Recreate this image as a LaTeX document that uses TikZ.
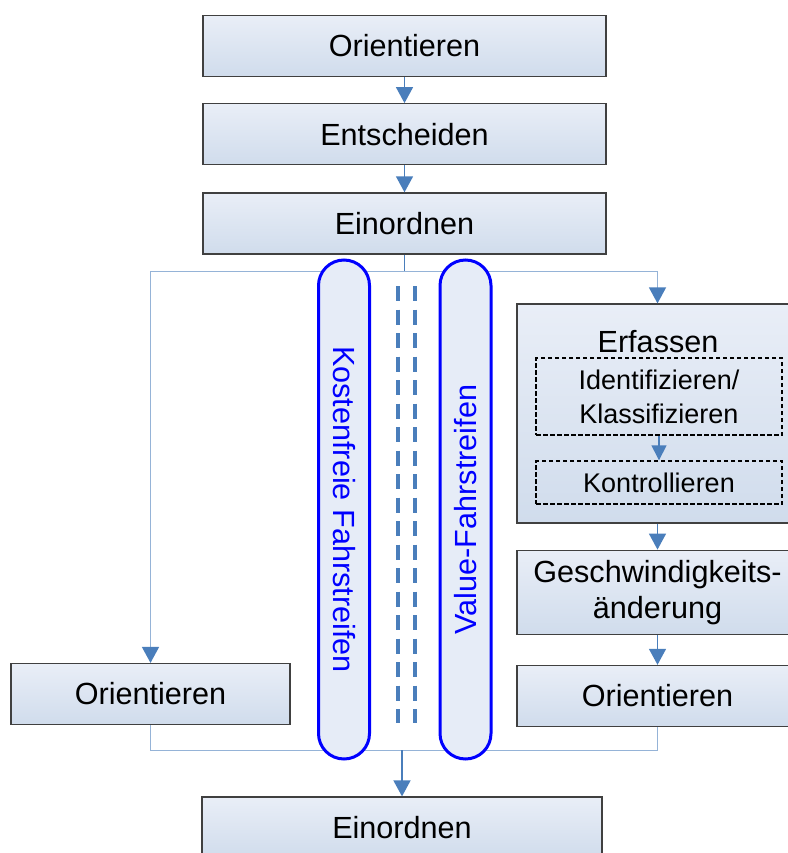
\documentclass[tikz,border=0pt]{standalone}
\usepackage{fontspec}
\setmainfont{Liberation Sans}
\usetikzlibrary{positioning,arrows.meta}

\definecolor{boxtop}{HTML}{E9EEF7}
\definecolor{boxbottom}{HTML}{D0DCEC}
\definecolor{flowblue}{HTML}{4A7EBB}
\definecolor{branchblue}{HTML}{95B3D7}
\definecolor{lanefill}{HTML}{E6ECF7}
\definecolor{laneblue}{HTML}{0000FF}

\tikzset{%
  % Specifications for style of nodes:
         phase/.style = {rectangle, draw=black!75, line width=1.2pt, top color=boxtop, bottom color=boxbottom, minimum width=403pt, minimum height=61pt, inner sep=0pt, align=center, font=\fontsize{30.6}{36}\selectfont},
      subphase/.style = {rectangle, draw=black, dash pattern=on 4.5pt off 2.5pt, line width=1.4pt, minimum width=246pt, inner sep=0pt, align=center, font=\fontsize{27}{34}\selectfont},
          lane/.style = {rectangle, rounded corners=25.5pt, draw=laneblue, line width=3pt, fill=lanefill, text=laneblue, minimum width=499pt, minimum height=51pt, inner sep=0pt, font=\fontsize{30.6}{36}\selectfont},
  % Specifications for style of connectors:
          flow/.style = {draw=flowblue, line width=1.5pt, -{Triangle[length=16pt,width=17pt]}},
        branch/.style = {draw=branchblue, line width=1.5pt},
}

\begin{document}
\begin{tikzpicture}[x=1pt, y=-1pt]
    \useasboundingbox (0,0) rectangle (787,853);

    % Draw nodes
    \node (orient)      [phase] at (404.5,46)              {Orientieren};
    \node (decide)      [phase, below=26pt of orient]     {Entscheiden};
    \node (sort)        [phase, below=27pt of decide]     {Einordnen};

    \node (orientL)     [phase, minimum width=279pt] at (150.5,694) {Orientieren};

    \node (capture)     [phase, minimum width=281pt, minimum height=219pt] at (657.5,413.5) {};
    \node (captitle)    [font=\fontsize{30.6}{36}\selectfont, inner sep=0pt] at (658,342) {Erfassen};
    \node (identify)    [subphase, minimum height=77pt] at (659,396.5) {Identifizieren/\\Klassifizieren};
    \node (check)       [subphase, minimum height=43pt] at (659,482.5) {Kontrollieren};
    \node (speed)       [phase, minimum width=281pt, minimum height=84pt, below=26pt of capture] {Geschwindigkeits-\\änderung};
    \node (orientR)     [phase, minimum width=281pt, below=30pt of speed] {Orientieren};

    \node (sort2)       [phase, minimum width=400pt] at (402,827.5) {Einordnen};

    \coordinate (split) at ([yshift=-17pt]sort.south);
    \coordinate (merge) at ([yshift=46pt]sort2.north);

    % Draw arrows
    \draw[flow]               (orient) -- (decide);
    \draw[flow]               (decide) -- (sort);
    \draw[draw=flowblue, line width=1.5pt] (sort) -- (split);
    \draw[branch, -{Triangle[length=16pt,width=17pt,color=flowblue]}] (split) -| (orientL);
    \draw[branch, -{Triangle[length=16pt,width=17pt,color=flowblue]}] (split) -| (capture);

    \draw[flow, -{Triangle[length=15pt,width=15pt]}] (identify) -- (check);
    \draw[flow]               (capture) -- (speed);
    \draw[flow]               (speed) -- (orientR);

    \draw[branch]             (orientL) |- (merge);
    \draw[branch]             (orientR) |- (merge);
    \draw[flow]               (merge) -- (sort2);

    % Draw lanes
    \node (freelane)    [lane, rotate=-90] at (344,509.5)   {Kostenfreie Fahrstreifen};
    \node (valuelane)   [lane, rotate=90]  at (465.5,509.5) {Value-Fahrstreifen};

    \draw[flowblue, line width=4pt, dash pattern=on 15pt off 8.5pt] (397.5,286) -- (397.5,723);
    \draw[flowblue, line width=4pt, dash pattern=on 15pt off 8.5pt] (414.5,286) -- (414.5,723);
\end{tikzpicture}
\end{document}
